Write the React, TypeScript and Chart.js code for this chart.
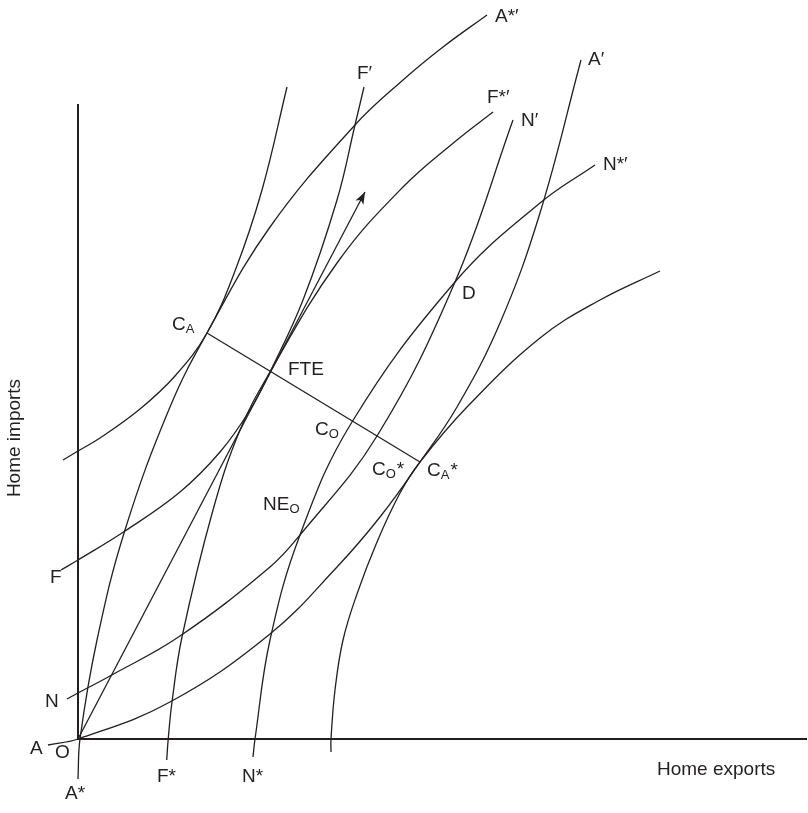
import React, { useEffect, useRef } from "react";
import { Chart, registerables } from "chart.js";

Chart.register(...registerables);

const INK = "#231f20";
const FONT = '"Liberation Sans", Arial, Helvetica, sans-serif';

// Axis ranges (Home exports / Home imports, arbitrary units)
const X_MAX = 72.8;
const Y_MAX = 63.4;

// Home autarky offer curve A -> A'
const curveA = [[-3.0, -0.6], [0, 0], [9.2, 3.7], [19.2, 10.5], [25.9, 17.2], [30.2, 22.2], [34.2, 27.7], [37.9, 33.2], [42.2, 41.6], [46.2, 52.6], [50.3, 67.9]];
// Foreign autarky offer curve A* -> A*'
const curveAStar = [[0, -4.0], [0.2, 0], [1.9, 9.9], [4.7, 20.9], [9.2, 33.2], [12.9, 40.6], [19.2, 51.2], [27.7, 61.4], [32.5, 65.9], [36.5, 69.2], [40.9, 72.4]];
// Home trade indifference curve through C_A
const indiffHome = [[-1.5, 27.9], [0, 28.8], [2.2, 30.1], [6.2, 33.0], [9.7, 36.3], [12.9, 40.6], [15.7, 46.8], [18.4, 54.9], [20.9, 65.2]];
// Foreign trade indifference curve through C_A*
const indiffForeign = [[25.3, -1.3], [25.3, 0], [25.7, 4.9], [26.5, 9.9], [27.9, 14.5], [29.9, 19.7], [32.2, 24.6], [34.2, 27.7], [38.9, 33.2], [46.2, 40.1], [52.2, 43.9], [58.2, 46.8]];
// Free-trade offer curves F -> F', F* -> F*'
const curveF = [[-1.7, 16.9], [0, 17.9], [4.7, 20.8], [10.2, 24.7], [14.2, 28.7], [17.2, 32.9], [19.2, 36.7], [22.5, 43.9], [25.9, 53.9], [27.7, 61.4], [28.6, 65.2]];
const curveFStar = [[8.87, -2.1], [9.03, 0.1], [9.4, 3.7], [10.4, 10.2], [13.5, 22.9], [16.2, 30.9], [19.2, 36.7], [25.9, 47.6], [32.5, 55.2], [37.9, 59.9], [41.5, 62.7]];
// Nash offer curves N -> N', N* -> N*'
const curveN = [[-1.1, 4.0], [0, 4.6], [3.2, 6.3], [10.2, 10.3], [19.2, 17.2], [22.2, 20.4], [29.9, 30.3], [37.7, 45.7], [43.5, 61.9]];
const curveNStar = [[17.5, -1.8], [17.7, 0], [19.2, 9.9], [22.2, 20.4], [27.4, 31.7], [37.7, 45.7], [46.2, 53.6], [51.7, 57.4]];
// Ray from O through FTE (arrow) and contract line C_A -> C_A*
const ray = [[0, 0], [28.7, 54.7]];
const contractLine = [[12.9, 40.6], [34.2, 27.7]];

// Labels: parts = [text, kind] with kind n=normal, s=subscript; anchor = left baseline
type Part = [string, "n" | "s"];
const labels: { parts: Part[]; x: number; y: number }[] = [
  { parts: [["A*′", "n"]], x: 41.7, y: 71.7 },
  { parts: [["F′", "n"]], x: 27.9, y: 66.0 },
  { parts: [["F*′", "n"]], x: 40.9, y: 63.6 },
  { parts: [["N′", "n"]], x: 44.3, y: 61.3 },
  { parts: [["A′", "n"]], x: 51.0, y: 67.4 },
  { parts: [["N*′", "n"]], x: 52.5, y: 56.9 },
  { parts: [["D", "n"]], x: 38.4, y: 44.0 },
  { parts: [["C", "n"], ["A", "s"]], x: 9.4, y: 40.9 },
  { parts: [["FTE", "n"]], x: 21.0, y: 36.4 },
  { parts: [["C", "n"], ["O", "s"]], x: 23.7, y: 30.4 },
  { parts: [["C", "n"], ["O", "s"], ["*", "n"]], x: 29.4, y: 26.4 },
  { parts: [["C", "n"], ["A", "s"], ["*", "n"]], x: 34.9, y: 26.3 },
  { parts: [["NE", "n"], ["O", "s"]], x: 18.5, y: 22.9 },
  { parts: [["F", "n"]], x: -2.8, y: 15.6 },
  { parts: [["N", "n"]], x: -3.3, y: 3.2 },
  { parts: [["A", "n"]], x: -4.8, y: -1.5 },
  { parts: [["O", "n"]], x: -2.3, y: -1.9 },
  { parts: [["A*", "n"]], x: -1.3, y: -6.0 },
  { parts: [["F*", "n"]], x: 7.9, y: -4.3 },
  { parts: [["N*", "n"]], x: 16.4, y: -4.3 },
  { parts: [["Home exports", "n"]], x: 57.9, y: -3.6 },
];
const yTitle = { text: "Home imports", x: -6.3, y: 30.1 };

const labelPlugin = {
  id: "labels",
  afterDraw(chart: any) {
    const { ctx } = chart;
    const xs = chart.scales.x;
    const ys = chart.scales.y;
    ctx.save();
    ctx.fillStyle = INK;
    ctx.textBaseline = "alphabetic";
    ctx.textAlign = "left";
    for (const l of labels) {
      let px = xs.getPixelForValue(l.x);
      const py = ys.getPixelForValue(l.y);
      for (const [t, kind] of l.parts) {
        const size = kind === "s" ? 13 : 19;
        ctx.font = `${size}px ${FONT}`;
        const dy = kind === "s" ? 3 : 0;
        ctx.fillText(t, px, py + dy);
        px += ctx.measureText(t).width + (kind === "s" ? 1 : 0);
      }
    }
    const tx = xs.getPixelForValue(yTitle.x);
    const ty = ys.getPixelForValue(yTitle.y);
    ctx.translate(tx, ty);
    ctx.rotate(-Math.PI / 2);
    ctx.font = `19px ${FONT}`;
    ctx.textAlign = "center";
    ctx.textBaseline = "middle";
    ctx.fillText(yTitle.text, 0, 0);
    ctx.restore();
  },
};

const arrowPlugin = {
  id: "arrowhead",
  afterDatasetsDraw(chart: any) {
    const meta = chart.getDatasetMeta(8);
    const pts = meta.data;
    if (!pts || pts.length < 2) return;
    const a = pts[pts.length - 2];
    const b = pts[pts.length - 1];
    const ang = Math.atan2(b.y - a.y, b.x - a.x);
    const len = 12;
    const half = 4.5;
    const { ctx } = chart;
    ctx.save();
    ctx.fillStyle = INK;
    ctx.translate(b.x, b.y);
    ctx.rotate(ang);
    ctx.beginPath();
    ctx.moveTo(0, 0);
    ctx.lineTo(-len, -half);
    ctx.lineTo(-len * 0.75, 0);
    ctx.lineTo(-len, half);
    ctx.closePath();
    ctx.fill();
    ctx.restore();
  },
};

export default function App() {
  const ref = useRef<HTMLCanvasElement>(null);
  useEffect(() => {
    document.body.style.margin = "0";
    const canvas = ref.current;
    if (!canvas) return;
    const mk = (pts: number[][], tension = 0.4) => ({
      data: pts.map(([x, y]) => ({ x, y })),
      showLine: true,
      borderColor: INK,
      borderWidth: 1.3,
      pointRadius: 0,
      pointHoverRadius: 0,
      tension,
      clip: false as any,
      fill: false,
    });
    const chart = new Chart(canvas, {
      type: "scatter",
      data: {
        datasets: [
          mk(curveA),
          mk(curveAStar),
          mk(indiffHome),
          mk(indiffForeign),
          mk(curveF),
          mk(curveFStar),
          mk(curveN),
          mk(curveNStar),
          mk(ray, 0),
          mk(contractLine, 0),
        ] as any,
      },
      options: {
        animation: false,
        responsive: false,
        devicePixelRatio: 1,
        events: [],
        layout: { padding: { left: 78, right: 2, top: 105, bottom: 74 }, autoPadding: false } as any,
        plugins: { legend: { display: false }, tooltip: { enabled: false } },
        scales: {
          x: {
            type: "linear",
            min: 0,
            max: X_MAX,
            ticks: { display: false },
            grid: { display: false, drawTicks: false },
            border: { display: true, color: INK, width: 2 },
          },
          y: {
            type: "linear",
            min: 0,
            max: Y_MAX,
            ticks: { display: false },
            grid: { display: false, drawTicks: false },
            border: { display: true, color: INK, width: 2 },
          },
        },
      },
      plugins: [labelPlugin, arrowPlugin],
    });
    return () => chart.destroy();
  }, []);
  return (
    <div style={{ width: 808, height: 813, background: "#fff" }}>
      <canvas ref={ref} width={808} height={813} style={{ display: "block" }} />
    </div>
  );
}
